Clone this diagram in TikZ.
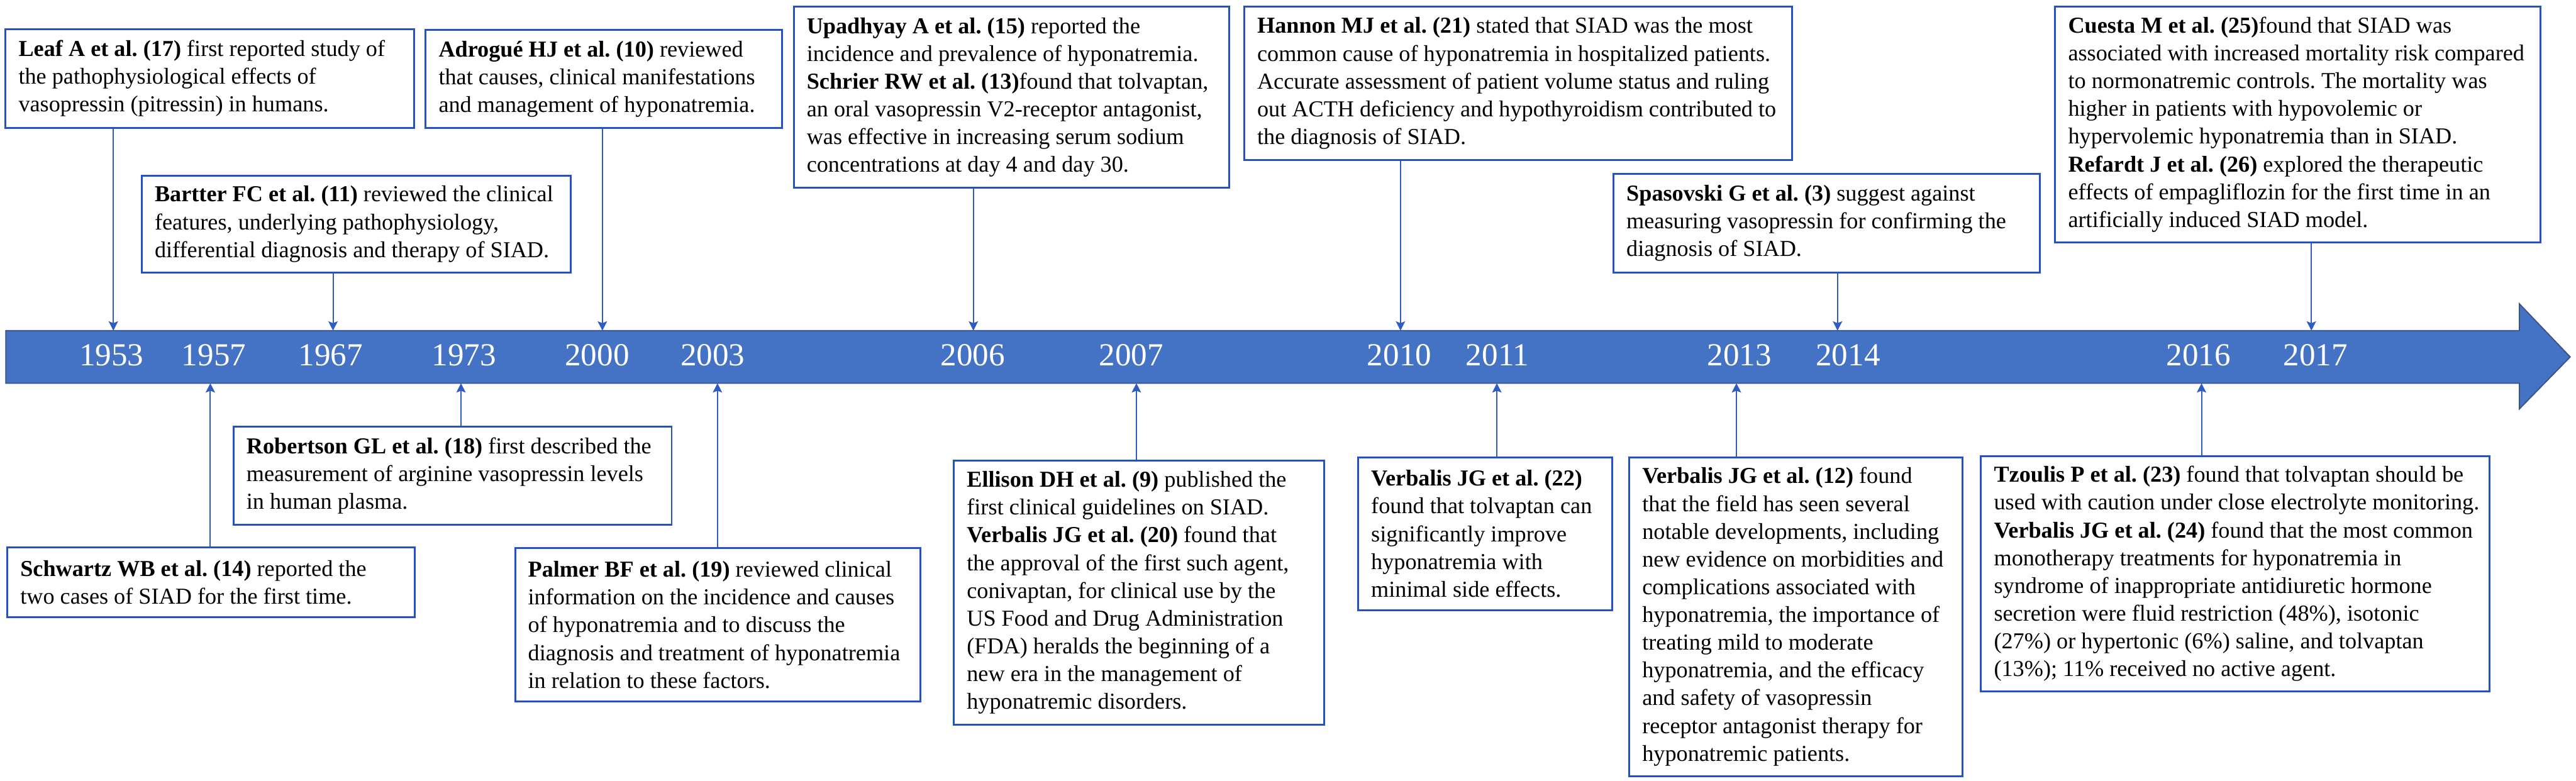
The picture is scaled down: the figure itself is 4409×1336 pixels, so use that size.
\documentclass[tikz,border=0pt]{standalone}
\usepackage{fontspec}
\setmainfont{Liberation Serif}
\usetikzlibrary{arrows.meta}
\definecolor{barblue}{HTML}{4472C4}
\definecolor{baredge}{HTML}{3B5287}
\definecolor{boxblue}{HTML}{2452C2}
\definecolor{lineblue}{HTML}{2F5BC4}
\tikzset{
  boxframe/.style={draw=boxblue, line width=0.8pt, fill=white, anchor=north west,
    inner sep=0pt},
  boxtext/.style={anchor=west, inner sep=0pt, align=left,
    font=\fontsize{9.75pt}{11.875pt}\selectfont},
  conn/.style={draw=lineblue, line width=0.55pt,
    -{Stealth[length=4pt,width=4pt,inset=0.8pt]}},
  yearlbl/.style={text=white, font=\fontsize{13.75pt}{16pt}\selectfont, inner sep=0pt},
}
\newcommand\tlbox[6]{%
  \pgfmathsetmacro\tlW{(#4-#2)*0.25}%
  \pgfmathsetmacro\tlH{(#5-#3)*0.25}%
  \node[boxframe, minimum width=\tlW pt, minimum height=\tlH pt] (#1) at (#2,#3) {};%
  \node[boxtext] (#1-t) at ([xshift=5.75pt]#1.west) {#6};%
}
\begin{document}
\frenchspacing
\begin{tikzpicture}[x=0.25pt, y=-0.25pt]
\useasboundingbox (0,0) rectangle (4409,1336);

% timeline bar
\path[fill=barblue, draw=baredge, line width=0.5pt]
  (10,566) -- (4312,566) -- (4312,520) -- (4399,611) -- (4312,700)
  -- (4312,656) -- (10,656) -- cycle;

% year labels
\node[yearlbl] (y1953) at (191,608) {1953};
\node[yearlbl] (y1957) at (366,608) {1957};
\node[yearlbl] (y1967) at (566,608) {1967};
\node[yearlbl] (y1973) at (794,608) {1973};
\node[yearlbl] (y2000) at (1022,608) {2000};
\node[yearlbl] (y2003) at (1220,608) {2003};
\node[yearlbl] (y2006) at (1665,608) {2006};
\node[yearlbl] (y2007) at (1936,608) {2007};
\node[yearlbl] (y2010) at (2395,608) {2010};
\node[yearlbl] (y2011) at (2563,608) {2011};
\node[yearlbl] (y2013) at (2977,608) {2013};
\node[yearlbl] (y2014) at (3163,608) {2014};
\node[yearlbl] (y2016) at (3763,608) {2016};
\node[yearlbl] (y2017) at (3963,608) {2017};

% connector end points on the bar
\coordinate (t1953) at (194,566);
\coordinate (t1967) at (570,566);
\coordinate (t2000) at (1031,566);
\coordinate (t2006) at (1666,566);
\coordinate (t2010) at (2397,566);
\coordinate (t2014) at (3145,566);
\coordinate (t2017) at (3956,566);
\coordinate (b1957) at (360,656);
\coordinate (b1973) at (789,656);
\coordinate (b2003) at (1228,656);
\coordinate (b2007) at (1945,656);
\coordinate (b2011) at (2562,656);
\coordinate (b2013) at (2972,656);
\coordinate (b2016) at (3768,656);

% top boxes
\tlbox{leaf}{8}{48}{707}{217}{%
\textbf{Leaf A et al. (17)} first reported study of\\
the pathophysiological effects of\\
vasopressin (pitressin) in humans.}
\tlbox{bartter}{241}{299}{975}{465}{%
\textbf{Bartter FC et al. (11)} reviewed the clinical\\
features, underlying pathophysiology,\\
differential diagnosis and therapy of SIAD.}
\tlbox{adrogue}{727}{50}{1337}{217}{%
\textbf{Adrogué HJ et al. (10)} reviewed\\
that causes, clinical manifestations\\
and management of hyponatremia.}
\tlbox{upad}{1357}{10}{2102}{320}{%
\textbf{Upadhyay A et al. (15)} reported the\\
incidence and prevalence of hyponatremia.\\
\textbf{Schrier RW et al. (13)}found that tolvaptan,\\
an oral vasopressin V2-receptor antagonist,\\
was effective in increasing serum sodium\\
concentrations at day 4 and day 30.}
\tlbox{hannon}{2128}{10}{3066}{272}{%
\textbf{Hannon MJ et al. (21)} stated that SIAD was the most\\
common cause of hyponatremia in hospitalized patients.\\
Accurate assessment of patient volume status and ruling\\
out ACTH deficiency and hypothyroidism contributed to\\
the diagnosis of SIAD.}
\tlbox{spas}{2760}{296}{3490}{465}{%
\textbf{Spasovski G et al. (3)} suggest against\\
measuring vasopressin for confirming the\\
diagnosis of SIAD.}
\tlbox{cuesta}{3516}{10}{4347}{413}{%
\textbf{Cuesta M et al. (25)}found that SIAD was\\
associated with increased mortality risk compared\\
to normonatremic controls. The mortality was\\
higher in patients with hypovolemic or\\
hypervolemic hyponatremia than in SIAD.\\
\textbf{Refardt J et al. (26)} explored the therapeutic\\
effects of empagliflozin for the first time in an\\
artificially induced SIAD model.}

% bottom boxes
\tlbox{schwartz}{11}{935}{708}{1055}{%
\textbf{Schwartz WB et al. (14)} reported the\\
two cases of SIAD for the first time.}
\tlbox{robertson}{398}{729}{1148}{897}{%
\textbf{Robertson GL et al. (18)} first described the\\
measurement of arginine vasopressin levels\\
in human plasma.}
\tlbox{palmer}{880}{937}{1574}{1199}{%
\textbf{Palmer BF et al. (19)} reviewed clinical\\
information on the incidence and causes\\
of hyponatremia and to discuss the\\
diagnosis and treatment of hyponatremia\\
in relation to these factors.}
\tlbox{ellison}{1631}{787}{2265}{1239}{%
\textbf{Ellison DH et al. (9)} published the\\
first clinical guidelines on SIAD.\\
\textbf{Verbalis JG et al. (20)} found that\\
the approval of the first such agent,\\
conivaptan, for clinical use by the\\
US Food and Drug Administration\\
(FDA) heralds the beginning of a\\
new era in the management of\\
hyponatremic disorders.}
\tlbox{vtwentytwo}{2323}{781}{2758}{1043}{%
\textbf{Verbalis JG et al. (22)}\\
found that tolvaptan can\\
significantly improve\\
hyponatremia with\\
minimal side effects.}
\tlbox{vtwelve}{2787}{781}{3357}{1327}{%
\textbf{Verbalis JG et al. (12)} found\\
that the field has seen several\\
notable developments, including\\
new evidence on morbidities and\\
complications associated with\\
hyponatremia, the importance of\\
treating mild to moderate\\
hyponatremia, and the efficacy\\
and safety of vasopressin\\
receptor antagonist therapy for\\
hyponatremic patients.}
\tlbox{tzoulis}{3389}{779}{4259}{1182}{%
\textbf{Tzoulis P et al. (23)} found that tolvaptan should be\\
used with caution under close electrolyte monitoring.\\
\textbf{Verbalis JG et al. (24)} found that the most common\\
monotherapy treatments for hyponatremia in\\
syndrome of inappropriate antidiuretic hormone\\
secretion were fluid restriction (48\%), isotonic\\
(27\%) or hypertonic (6\%) saline, and tolvaptan\\
(13\%); 11\% received no active agent.}

% connectors
\draw[conn] (leaf.south -| t1953) -- (t1953);
\draw[conn] (bartter.south -| t1967) -- (t1967);
\draw[conn] (adrogue.south -| t2000) -- (t2000);
\draw[conn] (upad.south -| t2006) -- (t2006);
\draw[conn] (hannon.south -| t2010) -- (t2010);
\draw[conn] (spas.south -| t2014) -- (t2014);
\draw[conn] (cuesta.south -| t2017) -- (t2017);
\draw[conn] (schwartz.north -| b1957) -- (b1957);
\draw[conn] (robertson.north -| b1973) -- (b1973);
\draw[conn] (palmer.north -| b2003) -- (b2003);
\draw[conn] (ellison.north -| b2007) -- (b2007);
\draw[conn] (vtwentytwo.north -| b2011) -- (b2011);
\draw[conn] (vtwelve.north -| b2013) -- (b2013);
\draw[conn] (tzoulis.north -| b2016) -- (b2016);
\end{tikzpicture}
\end{document}
